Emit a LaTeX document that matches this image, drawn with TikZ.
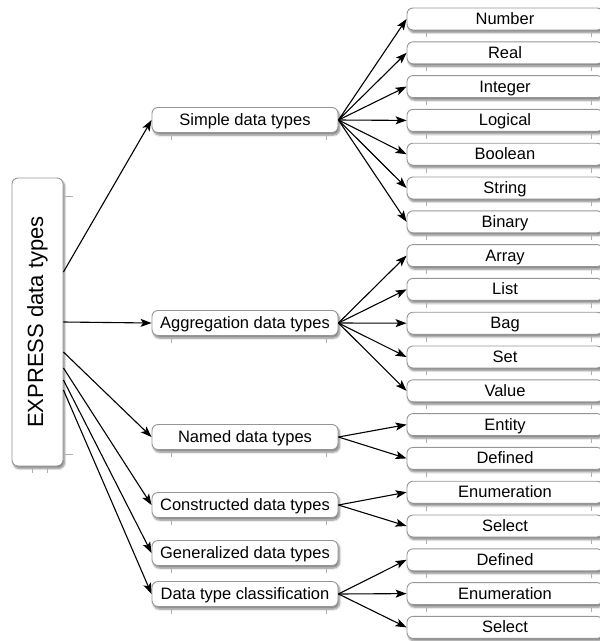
\documentclass[tikz,border=0pt]{standalone}
\usepackage{fontspec}
\setmainfont{Liberation Sans}
\usetikzlibrary{arrows.meta, shadows.blur}
\definecolor{boxgray}{RGB}{150,150,150}
\definecolor{rulegray}{RGB}{175,175,175}

\begin{document}
\begin{tikzpicture}[x=1pt, y=-1pt, >={Stealth[length=11pt, width=8pt, inset=2.5pt]},
	box/.style={draw=boxgray, line width=0.9pt, rounded corners=6pt, fill=white, inner sep=0pt,
		blur shadow={shadow xshift=1.5pt, shadow yshift=-2.5pt, shadow blur steps=6, shadow opacity=50}},
	rootbox/.style={box, minimum width=51pt, minimum height=288pt, font=\fontsize{22}{26}\selectfont},
	midbox/.style={box, minimum width=186pt, minimum height=25pt, text height=12pt, text depth=1pt, font=\fontsize{16.5}{20}\selectfont},
	leafbox/.style={box, minimum width=196pt, minimum height=22pt, text height=12pt, text depth=1pt, font=\fontsize{16.5}{20}\selectfont},
	ruler/.style={draw=rulegray, line width=0.6pt},
	link/.style={->, line width=1.1pt}]
				%Bildbereich
				\useasboundingbox (0,0) rectangle (600,641);
				% Wurzel
				\node[rootbox] (root) at (37.5,322) {\rotatebox{90}{EXPRESS data types}};
				% Mittlere Ebene
				\node[midbox] (simple) at (245,120) {Simple data types};
				\node[midbox] (aggr) at (245,323) {Aggregation data types};
				\node[midbox] (named) at (245,437) {Named data types};
				\node[midbox] (constr) at (245,505) {Constructed data types};
				\node[midbox] (general) at (245,553) {Generalized data types};
				\node[midbox] (classif) at (245,594) {Data type classification};
				% Blaetter
				\foreach \name/\txt [count=\i from 0] in {number/Number, real/Real, integer/Integer, logical/Logical, boolean/Boolean, string/String, binary/Binary, array/Array, list/List, bag/Bag, set/Set, value/Value, entity/Entity, defined/Defined, enum/Enumeration, select/Select, definedb/Defined, enumb/Enumeration, selectb/Select}
					\node[leafbox] (\name) at (505,{19+33.8*\i}) {\txt};
				% kleine Markierungen unter den Kaesten
				\foreach \n in {simple,aggr,named,constr,general,classif,number,real,integer,logical,boolean,string,binary,array,list,bag,set,value,entity,defined,enum,select,definedb,enumb,selectb} {
					\draw[ruler] ([xshift=20pt, yshift=-2pt]\n.south west) -- ++(0,5);
					\draw[ruler] ([xshift=-12pt, yshift=-2pt]\n.south east) -- ++(0,5);
				}
				\draw[ruler] ([xshift=21pt, yshift=-2pt]root.south west) -- ++(0,5);
				\draw[ruler] ([xshift=36pt, yshift=-2pt]root.south west) -- ++(0,5);
				\draw[ruler] ([xshift=2pt, yshift=-19pt]root.north east) -- ++(8,0);
				\draw[ruler] ([xshift=2pt, yshift=12pt]root.south east) -- ++(8,0);
				% Pfeile von der Wurzel
				\draw[link] ([yshift=50pt]root.east) -- (simple.west);
				\draw[link] (root.east) -- (aggr.west);
				\draw[link] ([yshift=-30pt]root.east) -- (named.west);
				\draw[link] ([yshift=-46pt]root.east) -- (constr.west);
				\draw[link] ([yshift=-58pt]root.east) -- (general.west);
				\draw[link] ([yshift=-68pt]root.east) -- (classif.west);
				% Pfeile zu den Blaettern
				\foreach \c in {number,real,integer,logical,boolean,string,binary} \draw[link] (simple.east) -- (\c.west);
				\foreach \c in {array,list,bag,set,value} \draw[link] (aggr.east) -- (\c.west);
				\foreach \c in {entity,defined} \draw[link] (named.east) -- (\c.west);
				\foreach \c in {enum,select} \draw[link] (constr.east) -- (\c.west);
				\foreach \c in {definedb,enumb,selectb} \draw[link] (classif.east) -- (\c.west);
			\end{tikzpicture}
\end{document}
